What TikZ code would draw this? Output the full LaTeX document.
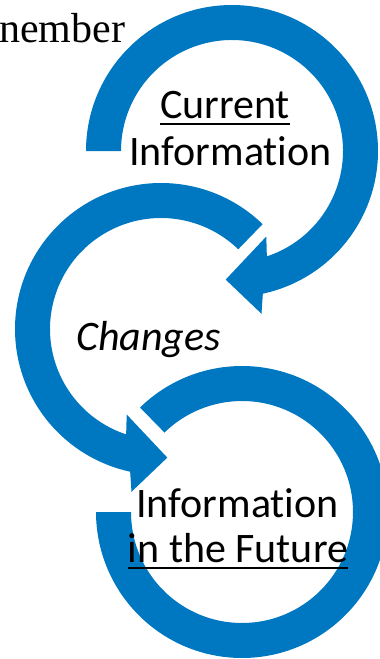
\documentclass[tikz,border=0pt]{standalone}
\usepackage{fontspec}
\setmainfont{Carlito}[Ligatures={NoCommon}]
\newfontfamily\serifrm{Liberation Serif}
\usetikzlibrary{calc}
\definecolor{ringblue}{RGB}{0,120,193}
\newcommand\myul[1]{\setbox0\hbox{#1}\rlap{\rule[-7.2pt]{\wd0}{2.2pt}}\box0}
\tikzset{
  ring/.style={fill=ringblue, draw=none},
  lbl/.style={inner sep=0pt, anchor=base, text=black, font=\fontsize{42}{50}\selectfont}
}
\begin{document}
\begin{tikzpicture}[x=1pt,y=1pt]
\useasboundingbox (0,0) rectangle (380,-659);
\clip (0,0) rectangle (380,-659);
\coordinate (c1) at (232,-151);
\coordinate (c2) at (161,-329);
\coordinate (c3) at (242,-512);
% top arrow
\fill[ring] ($(c1)+(180:146)$) arc[start angle=180, end angle=-77.8, radius=146]
  -- ($(c1)+(29.5,-162.8)$) -- ($(c1)+(-6.3,-128.6)$) -- ($(c1)+(34.3,-85.5)$)
  -- ($(c1)+(-71.7:111)$) arc[start angle=-71.7, end angle=180, radius=111] -- cycle;
% middle arrow
\fill[ring] ($(c2)+(45.9:146)$) arc[start angle=45.9, end angle=257.8, radius=146]
  -- ($(c2)+(-29.5,-162.8)$) -- ($(c2)+(6.3,-128.6)$) -- ($(c2)+(-34.3,-85.5)$)
  -- ($(c2)+(251.7:111)$) arc[start angle=251.7, end angle=45.9, radius=111] -- cycle;
% bottom ring
\fill[ring] ($(c3)+(134.3:146)$) arc[start angle=134.3, end angle=-180, radius=146]
  -- ($(c3)+(180:111)$) arc[start angle=-180, end angle=134.3, radius=111] -- cycle;
% texts
\node[lbl, anchor=base west] (rem) at (-1,-42) {\serifrm nember};
\node[lbl] (cur) at (225,-118) {\myul{Current}};
\node[lbl] (info1) at (230.5,-165) {Information};
\node[lbl] (chg) at (148.5,-350) {\itshape Changes};
\node[lbl] (info2) at (237.5,-517) {Information};
\node[lbl] (fut) at (238,-562) {\myul{in the Future}};
\end{tikzpicture}
\end{document}
